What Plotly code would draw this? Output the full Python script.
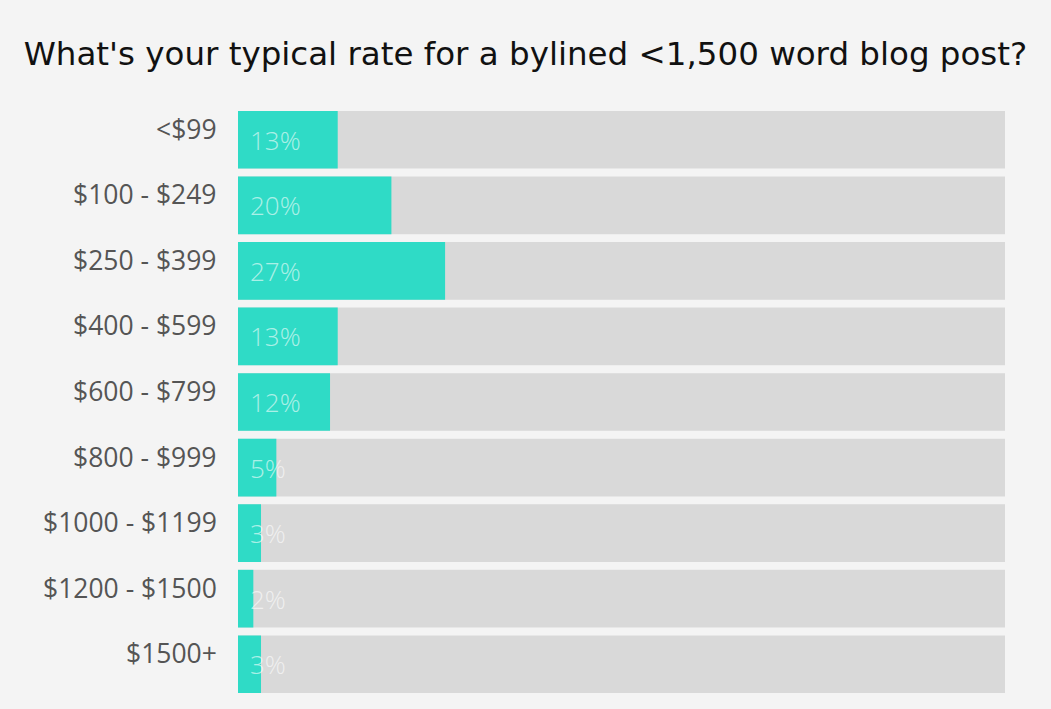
import plotly.graph_objects as go

categories = ["<$99", "$100 - $249", "$250 - $399", "$400 - $599", "$600 - $799",
              "$800 - $999", "$1000 - $1199", "$1200 - $1500", "$1500+"]
values = [13, 20, 27, 13, 12, 5, 3, 2, 3]
track = [100] * len(categories)
labels = [f"{v}%" for v in values]
title = "What's your typical rate for a bylined <1,500 word blog post?"

fig = go.Figure()
fig.add_trace(go.Bar(
    y=categories, x=track, orientation="h",
    marker=dict(color="#d9d9d9", line=dict(width=0)),
    hoverinfo="skip", showlegend=False,
))
fig.add_trace(go.Bar(
    y=categories, x=values, orientation="h",
    marker=dict(color="#2fdbc6", line=dict(width=0)),
    showlegend=False,
))

for c, lab in zip(categories, labels):
    fig.add_annotation(
        x=0, y=c, xref="x", yref="y", text=c, showarrow=False,
        xanchor="right", xshift=-19, yshift=11,
        font=dict(family="Open Sans", size=26.5, color="#555555"),
    )
    fig.add_annotation(
        x=0, y=c, xref="x", yref="y", text=lab, showarrow=False,
        xanchor="left", xshift=10, yshift=0,
        font=dict(family="Open Sans", size=26, color="rgba(255,255,255,0.6)", weight=300),
    )

fig.update_layout(
    width=1051, height=709,
    paper_bgcolor="#f4f4f4", plot_bgcolor="#f4f4f4",
    barmode="overlay", bargap=0.12,
    margin=dict(l=238, r=46, t=107, b=12),
    title=dict(text=title, x=0.5, xanchor="center", y=0.925, yanchor="middle",
               font=dict(family="DejaVu Sans", size=32.5, color="#111111")),
    xaxis=dict(range=[0, 100], visible=False, fixedrange=True),
    yaxis=dict(categoryorder="array", categoryarray=categories, autorange="reversed",
               showticklabels=False, showgrid=False, zeroline=False, fixedrange=True),
)

fig.write_html(
    "out.html",
    config={"displayModeBar": False},
    post_script="document.body.style.margin='0';document.body.style.background='#f4f4f4';",
)
